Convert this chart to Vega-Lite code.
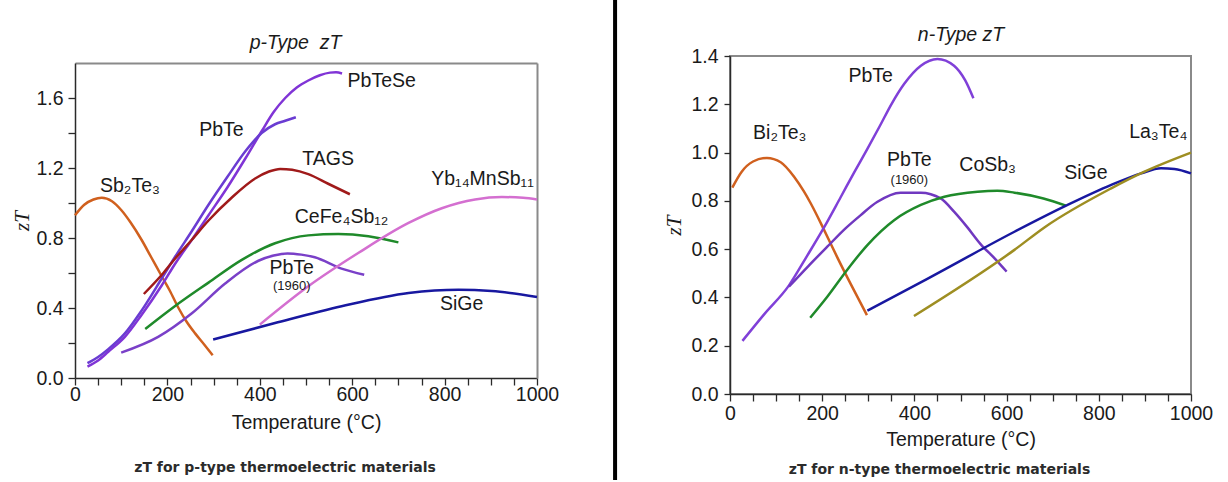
{
"$schema": "https://vega.github.io/schema/vega-lite/v6.json",
"background": "white",
"padding": {"left": 11, "top": -3, "right": 0, "bottom": 0},
"spacing": 44,
"config": {
  "font": "Liberation Sans",
  "view": {"stroke": null},
  "axis": {"grid": false, "labelFont": "Liberation Sans", "labelFontSize": 19.5, "labelColor": "#1a1a1a", "titleFont": "Liberation Sans", "titleFontSize": 19.5, "titleFontWeight": "normal", "titleColor": "#1a1a1a", "domainColor": "#2a2a2a", "domainWidth": 1.5, "tickColor": "#2a2a2a", "tickWidth": 1.3, "labelFlush": false, "labelOverlap": false, "labelBound": false}
},
"resolve": {"scale": {"color": "independent"}},
"datasets": {
  "pLines": [
    {"series":"Sb2Te3","T":0,"zT":0.93},{"series":"Sb2Te3","T":20,"zT":0.99},{"series":"Sb2Te3","T":40,"zT":1.02},{"series":"Sb2Te3","T":58,"zT":1.03},{"series":"Sb2Te3","T":80,"zT":1.01},{"series":"Sb2Te3","T":100,"zT":0.96},{"series":"Sb2Te3","T":120,"zT":0.89},{"series":"Sb2Te3","T":144,"zT":0.79},{"series":"Sb2Te3","T":165,"zT":0.69},{"series":"Sb2Te3","T":188,"zT":0.58},{"series":"Sb2Te3","T":205,"zT":0.5},{"series":"Sb2Te3","T":224,"zT":0.4},{"series":"Sb2Te3","T":242,"zT":0.32},{"series":"Sb2Te3","T":260,"zT":0.255},{"series":"Sb2Te3","T":280,"zT":0.19},{"series":"Sb2Te3","T":298,"zT":0.13},
    {"series":"PbTeSe","T":27,"zT":0.065},{"series":"PbTeSe","T":50,"zT":0.1},{"series":"PbTeSe","T":72,"zT":0.15},{"series":"PbTeSe","T":108,"zT":0.235},{"series":"PbTeSe","T":144,"zT":0.36},{"series":"PbTeSe","T":188,"zT":0.53},{"series":"PbTeSe","T":216,"zT":0.65},{"series":"PbTeSe","T":253,"zT":0.79},{"series":"PbTeSe","T":289,"zT":0.93},{"series":"PbTeSe","T":330,"zT":1.09},{"series":"PbTeSe","T":370,"zT":1.26},{"series":"PbTeSe","T":404,"zT":1.41},{"series":"PbTeSe","T":430,"zT":1.52},{"series":"PbTeSe","T":455,"zT":1.6},{"series":"PbTeSe","T":480,"zT":1.66},{"series":"PbTeSe","T":505,"zT":1.7},{"series":"PbTeSe","T":530,"zT":1.73},{"series":"PbTeSe","T":552,"zT":1.745},{"series":"PbTeSe","T":565,"zT":1.747},{"series":"PbTeSe","T":578,"zT":1.74},
    {"series":"PbTe","T":27,"zT":0.085},{"series":"PbTe","T":50,"zT":0.12},{"series":"PbTe","T":72,"zT":0.165},{"series":"PbTe","T":108,"zT":0.255},{"series":"PbTe","T":144,"zT":0.385},{"series":"PbTe","T":188,"zT":0.57},{"series":"PbTe","T":216,"zT":0.69},{"series":"PbTe","T":253,"zT":0.84},{"series":"PbTe","T":289,"zT":0.99},{"series":"PbTe","T":330,"zT":1.15},{"series":"PbTe","T":370,"zT":1.3},{"series":"PbTe","T":404,"zT":1.4},{"series":"PbTe","T":433,"zT":1.45},{"series":"PbTe","T":455,"zT":1.47},{"series":"PbTe","T":478,"zT":1.49},
    {"series":"TAGS","T":149,"zT":0.48},{"series":"TAGS","T":188,"zT":0.59},{"series":"TAGS","T":216,"zT":0.68},{"series":"TAGS","T":253,"zT":0.79},{"series":"TAGS","T":289,"zT":0.9},{"series":"TAGS","T":339,"zT":1.03},{"series":"TAGS","T":390,"zT":1.14},{"series":"TAGS","T":420,"zT":1.18},{"series":"TAGS","T":444,"zT":1.195},{"series":"TAGS","T":470,"zT":1.19},{"series":"TAGS","T":505,"zT":1.165},{"series":"TAGS","T":548,"zT":1.11},{"series":"TAGS","T":595,"zT":1.05},
    {"series":"CeFe4Sb12","T":152,"zT":0.28},{"series":"CeFe4Sb12","T":216,"zT":0.41},{"series":"CeFe4Sb12","T":289,"zT":0.545},{"series":"CeFe4Sb12","T":361,"zT":0.675},{"series":"CeFe4Sb12","T":433,"zT":0.77},{"series":"CeFe4Sb12","T":505,"zT":0.815},{"series":"CeFe4Sb12","T":570,"zT":0.823},{"series":"CeFe4Sb12","T":635,"zT":0.81},{"series":"CeFe4Sb12","T":700,"zT":0.775},
    {"series":"PbTe (1960)","T":100,"zT":0.145},{"series":"PbTe (1960)","T":180,"zT":0.235},{"series":"PbTe (1960)","T":253,"zT":0.37},{"series":"PbTe (1960)","T":325,"zT":0.54},{"series":"PbTe (1960)","T":397,"zT":0.67},{"series":"PbTe (1960)","T":430,"zT":0.7},{"series":"PbTe (1960)","T":460,"zT":0.712},{"series":"PbTe (1960)","T":490,"zT":0.705},{"series":"PbTe (1960)","T":519,"zT":0.69},{"series":"PbTe (1960)","T":577,"zT":0.625},{"series":"PbTe (1960)","T":626,"zT":0.59},
    {"series":"Yb14MnSb11","T":400,"zT":0.305},{"series":"Yb14MnSb11","T":505,"zT":0.524},{"series":"Yb14MnSb11","T":613,"zT":0.714},{"series":"Yb14MnSb11","T":722,"zT":0.886},{"series":"Yb14MnSb11","T":794,"zT":0.97},{"series":"Yb14MnSb11","T":866,"zT":1.02},{"series":"Yb14MnSb11","T":924,"zT":1.034},{"series":"Yb14MnSb11","T":970,"zT":1.03},{"series":"Yb14MnSb11","T":1000,"zT":1.02},
    {"series":"SiGe","T":299,"zT":0.22},{"series":"SiGe","T":433,"zT":0.314},{"series":"SiGe","T":577,"zT":0.41},{"series":"SiGe","T":722,"zT":0.486},{"series":"SiGe","T":830,"zT":0.505},{"series":"SiGe","T":902,"zT":0.497},{"series":"SiGe","T":1000,"zT":0.463}
  ],
  "pLabels": [
    {"label":"PbTeSe","T":664,"zT":1.695},
    {"label":"PbTe","T":317,"zT":1.42},
    {"label":"TAGS","T":548,"zT":1.25},
    {"label":"Sb₂Te₃","T":119,"zT":1.1},
    {"label":"CeFe₄Sb₁₂","T":577,"zT":0.92},
    {"label":"PbTe","T":469,"zT":0.63},
    {"label":"(1960)","T":469,"zT":0.524},
    {"label":"Yb₁₄MnSb₁₁","T":882,"zT":1.14},
    {"label":"SiGe","T":837,"zT":0.423}
  ],
  "nLines": [
    {"series":"Bi2Te3","T":5,"zT":0.855},{"series":"Bi2Te3","T":25,"zT":0.92},{"series":"Bi2Te3","T":50,"zT":0.963},{"series":"Bi2Te3","T":80,"zT":0.978},{"series":"Bi2Te3","T":110,"zT":0.96},{"series":"Bi2Te3","T":139,"zT":0.9},{"series":"Bi2Te3","T":160,"zT":0.84},{"series":"Bi2Te3","T":175,"zT":0.79},{"series":"Bi2Te3","T":204,"zT":0.68},{"series":"Bi2Te3","T":233,"zT":0.565},{"series":"Bi2Te3","T":262,"zT":0.455},{"series":"Bi2Te3","T":297,"zT":0.327},
    {"series":"PbTe","T":27,"zT":0.22},{"series":"PbTe","T":74,"zT":0.33},{"series":"PbTe","T":128,"zT":0.45},{"series":"PbTe","T":165,"zT":0.565},{"series":"PbTe","T":204,"zT":0.69},{"series":"PbTe","T":240,"zT":0.815},{"series":"PbTe","T":270,"zT":0.92},{"series":"PbTe","T":298,"zT":1.015},{"series":"PbTe","T":325,"zT":1.11},{"series":"PbTe","T":350,"zT":1.2},{"series":"PbTe","T":378,"zT":1.285},{"series":"PbTe","T":414,"zT":1.36},{"series":"PbTe","T":450,"zT":1.388},{"series":"PbTe","T":486,"zT":1.36},{"series":"PbTe","T":510,"zT":1.3},{"series":"PbTe","T":528,"zT":1.225},
    {"series":"PbTe (1960)","T":128,"zT":0.445},{"series":"PbTe (1960)","T":170,"zT":0.53},{"series":"PbTe (1960)","T":211,"zT":0.61},{"series":"PbTe (1960)","T":250,"zT":0.685},{"series":"PbTe (1960)","T":283,"zT":0.74},{"series":"PbTe (1960)","T":319,"zT":0.795},{"series":"PbTe (1960)","T":370,"zT":0.834},{"series":"PbTe (1960)","T":414,"zT":0.834},{"series":"PbTe (1960)","T":457,"zT":0.81},{"series":"PbTe (1960)","T":486,"zT":0.755},{"series":"PbTe (1960)","T":515,"zT":0.69},{"series":"PbTe (1960)","T":544,"zT":0.62},{"series":"PbTe (1960)","T":575,"zT":0.56},{"series":"PbTe (1960)","T":600,"zT":0.507},
    {"series":"CoSb3","T":174,"zT":0.316},{"series":"CoSb3","T":211,"zT":0.403},{"series":"CoSb3","T":254,"zT":0.514},{"series":"CoSb3","T":298,"zT":0.617},{"series":"CoSb3","T":356,"zT":0.72},{"series":"CoSb3","T":414,"zT":0.783},{"series":"CoSb3","T":465,"zT":0.817},{"series":"CoSb3","T":537,"zT":0.838},{"series":"CoSb3","T":580,"zT":0.842},{"series":"CoSb3","T":617,"zT":0.834},{"series":"CoSb3","T":680,"zT":0.81},{"series":"CoSb3","T":729,"zT":0.78},
    {"series":"SiGe","T":298,"zT":0.345},{"series":"SiGe","T":428,"zT":0.477},{"series":"SiGe","T":617,"zT":0.672},{"series":"SiGe","T":729,"zT":0.78},{"series":"SiGe","T":827,"zT":0.866},{"series":"SiGe","T":892,"zT":0.914},{"series":"SiGe","T":935,"zT":0.935},{"series":"SiGe","T":964,"zT":0.932},{"series":"SiGe","T":1000,"zT":0.914},
    {"series":"La3Te4","T":399,"zT":0.323},{"series":"La3Te4","T":617,"zT":0.597},{"series":"La3Te4","T":682,"zT":0.69},{"series":"La3Te4","T":827,"zT":0.852},{"series":"La3Te4","T":899,"zT":0.921},{"series":"La3Te4","T":1000,"zT":1.0}
  ],
  "nLabels": [
    {"label":"PbTe","T":305,"zT":1.318},
    {"label":"Bi₂Te₃","T":108,"zT":1.08},
    {"label":"PbTe","T":389,"zT":0.969},
    {"label":"(1960)","T":389,"zT":0.886},
    {"label":"CoSb₃","T":559,"zT":0.949},
    {"label":"SiGe","T":772,"zT":0.914},
    {"label":"La₃Te₄","T":929,"zT":1.087}
  ],
  "divider": [{"T": 1169, "top": 2.1657, "bottom": -0.583}]
},
"hconcat": [
  {
    "width": 462, "height": 322,
    "title": {"text": "zT for p-type thermoelectric materials", "orient": "bottom", "frame": "group", "anchor": "middle", "dx": -21, "offset": -21, "font": "DejaVu Sans", "fontSize": 14, "fontWeight": "bold", "color": "#2b2b2b", "baseline": "top"},
    "resolve": {"axis": {"x": "independent", "y": "independent"}},
    "layer": [
      {
        "data": {"name": "pLines"},
        "mark": {"type": "line", "interpolate": "monotone", "strokeWidth": 2.5},
        "encoding": {
          "x": {"field": "T", "type": "quantitative", "scale": {"domain": [0, 1000], "nice": false, "zero": false},
                "axis": {"orient": "bottom", "values": [0,50,100,150,200,250,300,350,400,450,500,550,600,650,700,750,800,850,900,950,1000], "labelExpr": "datum.value % 200 === 0 ? format(datum.value, 'd') : ''", "title": "Temperature (°C)", "tickSize": 7, "labelPadding": 0, "titlePadding": 10,
                         "encode": {"ticks": {"update": {"y2": [{"test": "datum.value % 200 === 0", "value": -7}, {"value": -5}]}}}}},
          "y": {"field": "zT", "type": "quantitative", "scale": {"domain": [0, 1.8], "range": [322, 7], "nice": false, "zero": false},
                "axis": {"orient": "left", "values": [0,0.2,0.4,0.6,0.8,1.0,1.2,1.4,1.6], "labelExpr": "round(datum.value*10) % 4 === 0 ? format(datum.value, '.1f') : ''", "title": "zT", "titleFont": "Liberation Serif", "titleFontStyle": "italic", "titleFontSize": 21, "tickSize": 7, "labelPadding": 5, "titlePadding": 3,
                         "encode": {"ticks": {"update": {"x2": [{"test": "round(datum.value*10) % 4 === 0", "value": 7}, {"value": 5}]}}}}},
          "color": {"field": "series", "type": "nominal", "legend": null,
                    "scale": {"domain": ["Sb2Te3","PbTeSe","PbTe","TAGS","CeFe4Sb12","PbTe (1960)","Yb14MnSb11","SiGe"],
                              "range": ["#D0601E","#8034D6","#6A3CD2","#A01A1A","#1F8A2A","#7A40C8","#D46FD0","#1818A0"]}}
        }
      },
      {
        "data": {"name": "pLabels"},
        "transform": [{"filter": "datum.label !== '(1960)'"}],
        "mark": {"type": "text", "fontSize": 19.5, "color": "#1a1a1a"},
        "encoding": {
          "x": {"field": "T", "type": "quantitative", "axis": {"orient": "top", "offset": -7, "labels": false, "ticks": false, "domainColor": "#8a8a8a", "domainWidth": 2, "title": "p-Type\u00a0 zT", "titleFontStyle": "italic", "titlePadding": 11, "titleX": 220}},
          "y": {"field": "zT", "type": "quantitative", "axis": {"orient": "right", "labels": false, "ticks": false, "domainColor": "#8a8a8a", "domainWidth": 2, "title": null}},
          "text": {"field": "label"}
        }
      },
      {
        "data": {"name": "pLabels"},
        "transform": [{"filter": "datum.label === '(1960)'"}],
        "mark": {"type": "text", "fontSize": 13, "color": "#1a1a1a"},
        "encoding": {
          "x": {"field": "T", "type": "quantitative", "axis": null},
          "y": {"field": "zT", "type": "quantitative", "axis": null},
          "text": {"field": "label"}
        }
      },
      {
        "data": {"name": "divider"},
        "mark": {"type": "rule", "strokeWidth": 4, "color": "#000000", "clip": false},
        "encoding": {
          "x": {"field": "T", "type": "quantitative", "axis": null},
          "y": {"field": "top", "type": "quantitative", "axis": null},
          "y2": {"field": "bottom"}
        }
      }
    ]
  },
  {
    "width": 461, "height": 338,
    "view": {"stroke": "#8a8a8a", "strokeWidth": 2},
    "title": {"text": "zT for n-type thermoelectric materials", "orient": "bottom", "frame": "group", "anchor": "middle", "dx": -21, "offset": 14, "font": "DejaVu Sans", "fontSize": 14, "fontWeight": "bold", "color": "#2b2b2b", "baseline": "top"},
    "resolve": {"axis": {"x": "independent"}},
    "layer": [
      {
        "data": {"name": "nLines"},
        "mark": {"type": "line", "interpolate": "monotone", "strokeWidth": 2.5},
        "encoding": {
          "x": {"field": "T", "type": "quantitative", "scale": {"domain": [0, 1000], "nice": false, "zero": false},
                "axis": {"orient": "bottom", "values": [0,50,100,150,200,250,300,350,400,450,500,550,600,650,700,750,800,850,900,950,1000], "labelExpr": "datum.value % 200 === 0 ? format(datum.value, 'd') : ''", "title": "Temperature (°C)", "tickSize": 7, "labelPadding": 3, "titlePadding": 8,
                         "encode": {"ticks": {"update": {"y2": [{"test": "datum.value % 200 === 0", "value": -7}, {"value": -5}]}}}}},
          "y": {"field": "zT", "type": "quantitative", "scale": {"domain": [0, 1.4], "nice": false, "zero": false},
                "axis": {"orient": "left", "values": [0,0.2,0.4,0.6,0.8,1.0,1.2,1.4], "format": ".1f", "title": "zT", "titleFont": "Liberation Serif", "titleFontStyle": "italic", "titleFontSize": 21, "tickSize": 6, "labelPadding": 6, "titlePadding": 6,
                         "encode": {"ticks": {"update": {"x2": {"value": 6}}}}}},
          "color": {"field": "series", "type": "nominal", "legend": null,
                    "scale": {"domain": ["Bi2Te3","PbTe","PbTe (1960)","CoSb3","SiGe","La3Te4"],
                              "range": ["#D0601E","#8040D8","#7038C0","#1F8A2A","#1818A0","#9E8E22"]}}
        }
      },
      {
        "data": {"name": "nLabels"},
        "transform": [{"filter": "datum.label !== '(1960)'"}],
        "mark": {"type": "text", "fontSize": 19.5, "color": "#1a1a1a"},
        "encoding": {
          "x": {"field": "T", "type": "quantitative", "axis": {"orient": "top", "labels": false, "ticks": false, "domain": false, "title": "n-Type zT", "titleFontStyle": "italic", "titlePadding": 12}},
          "y": {"field": "zT", "type": "quantitative"},
          "text": {"field": "label"}
        }
      },
      {
        "data": {"name": "nLabels"},
        "transform": [{"filter": "datum.label === '(1960)'"}],
        "mark": {"type": "text", "fontSize": 13, "color": "#1a1a1a"},
        "encoding": {
          "x": {"field": "T", "type": "quantitative", "axis": null},
          "y": {"field": "zT", "type": "quantitative"},
          "text": {"field": "label"}
        }
      }
    ]
  }
]
}
